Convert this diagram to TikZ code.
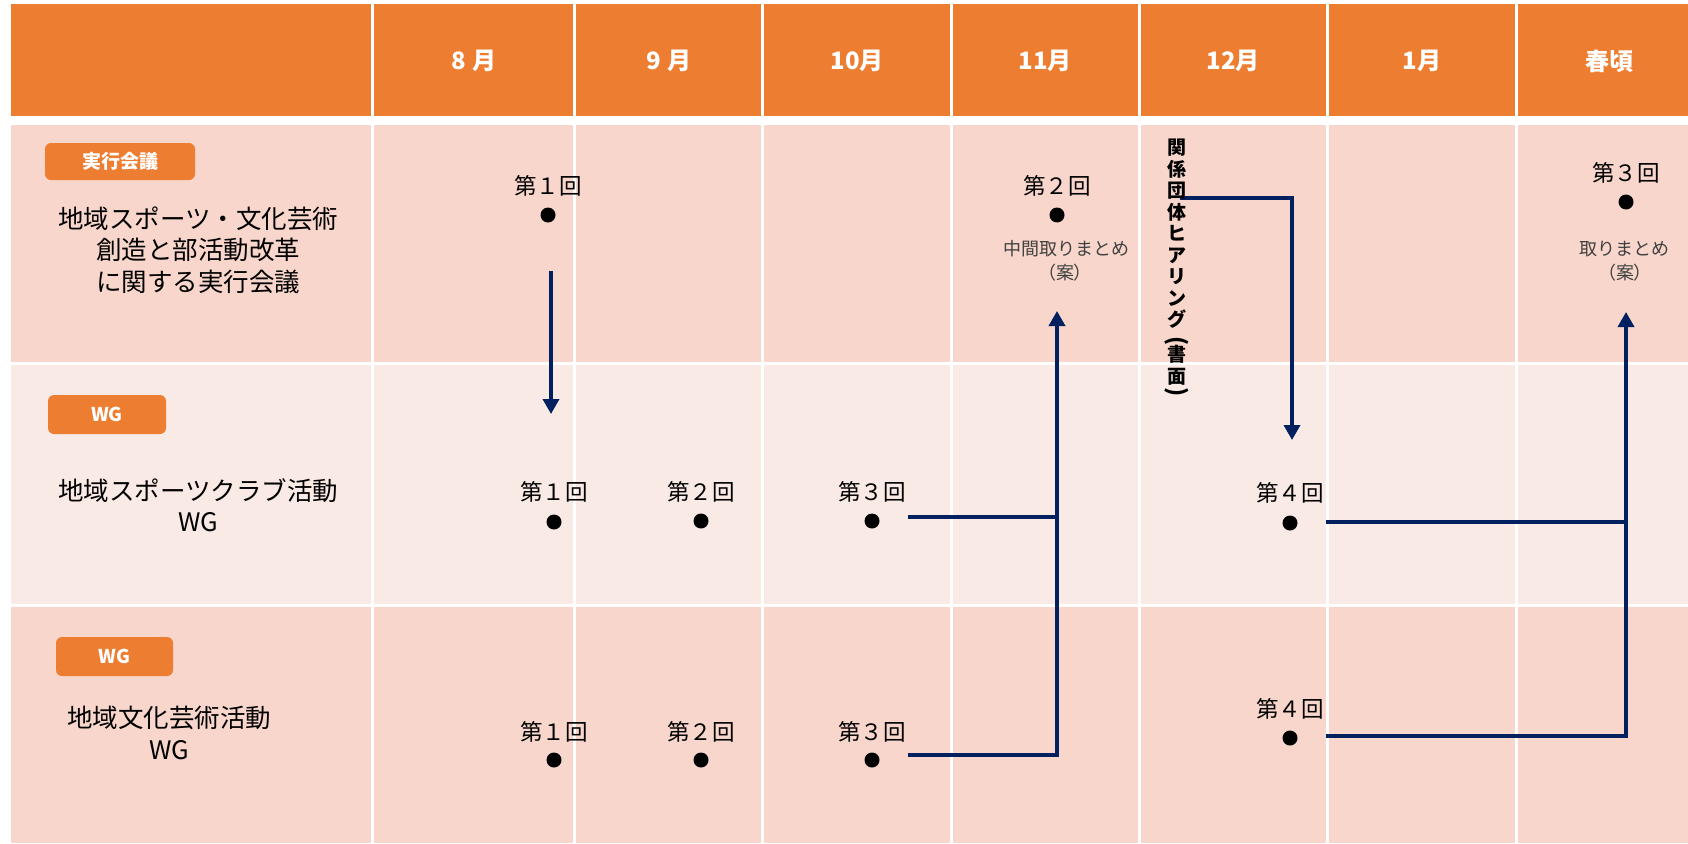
\documentclass[tikz,border=0pt]{standalone}
\usepackage{fontspec}
\usetikzlibrary{arrows.meta}
\setmainfont{Noto Sans CJK JP}
\newfontfamily\jpprop{Noto Sans CJK JP}[RawFeature=+palt]
\definecolor{hdrorange}{HTML}{ED7D31}
\definecolor{rowpink}{HTML}{F8D6CB}
\definecolor{rowlight}{HTML}{FAEAE5}
\definecolor{flownavy}{HTML}{002060}
\definecolor{notegray}{HTML}{404040}
% a parenthesis turned for vertical setting
\newcommand{\vparen}[1]{\rotatebox[origin=c]{-90}{\fontsize{23}{23}\selectfont #1}}
\tikzset{
  month/.style={text=white, font=\bfseries\fontsize{24}{28}\selectfont, inner sep=0pt},
  badge/.style={fill=hdrorange, rounded corners=6pt, text=white,
    font=\bfseries\fontsize{19}{22}\selectfont, inner sep=0pt},
  rowlabel/.style={align=center, font=\fontsize{25.5}{31.5}\selectfont, inner sep=0pt},
  meeting/.style={font=\fontsize{22.5}{26}\selectfont, inner sep=0pt},
  dot/.style={circle, fill=black, minimum size=15pt, inner sep=0pt},
  note/.style={text=notegray, font=\fontsize{18}{24}\selectfont, inner sep=0pt},
  flow/.style={draw=flownavy, line width=3.5pt},
  flowarrow/.style={flow, -{Triangle[length=15pt,width=16pt]}},
  vlabel/.style={align=center, font=\bfseries\fontsize{19}{21.5}\selectfont, inner sep=0pt},
  grid/.style={draw=white, line width=3pt},
}
\begin{document}
\begin{tikzpicture}[x=1pt,y=-1pt]
\useasboundingbox (0,0) rectangle (1688,843);
\fill[white] (0,0) rectangle (1688,843);

% table bands
\fill[hdrorange] (11,4) rectangle (1688,116);
\fill[rowpink]   (11,125) rectangle (1688,362);
\fill[rowlight]  (11,362) rectangle (1688,605);
\fill[rowpink]   (11,605) rectangle (1688,843);
\draw[grid] (11,363.5) -- (1688,363.5);
\draw[grid] (11,605.5) -- (1688,605.5);
\foreach \x in {372,574,762,951,1139,1327,1516}
  \draw[grid] (\x,4) -- (\x,843);

% month headers
\node[month] (m8)  at (474,61)  {8 月};
\node[month] (m9)  at (669,61)  {9 月};
\node[month] (m10) at (857,61)  {10月};
\node[month] (m11) at (1045,61) {11月};
\node[month] (m12) at (1233,61) {12月};
\node[month] (m1)  at (1422,61) {1月};
\node[month] (msp) at (1609,61) {春頃};

% row headings
\node[badge, minimum width=150pt, minimum height=37pt] (bexec) at (120,161.5) {実行会議};
\node[rowlabel] (lexec) at (198,250) {地域スポーツ・文化芸術\\創造と部活動改革\\に関する実行会議};
\node[badge, minimum width=118pt, minimum height=39pt] (bwg1) at (107,414.5) {WG};
\node[rowlabel] (lwg1) at (198,505) {地域スポーツクラブ活動\\WG};
\node[badge, minimum width=117pt, minimum height=39pt] (bwg2) at (114.5,656.5) {WG};
\node[rowlabel] (lwg2) at (169,733) {地域文化芸術活動\\WG};

% executive council meetings
\node[meeting] (e1t) at (548,186) {第１回};
\node[dot]     (e1)  at (548,215) {};
\node[meeting] (e2t) at (1057,186) {第２回};
\node[dot]     (e2)  at (1057,215) {};
\node[note]    (e2n) at (1066,249) {中間取りまとめ};
\node[note]    (e2c) at (1065,273) {\jpprop （案）};
\node[meeting] (e3t) at (1626,173) {第３回};
\node[dot]     (e3)  at (1626,202) {};
\node[note]    (e3n) at (1624,249) {取りまとめ};
\node[note]    (e3c) at (1625,273) {\jpprop （案）};

% sports club WG meetings
\node[meeting] (s1t) at (554,492) {第１回};
\node[dot]     (s1)  at (554,522) {};
\node[meeting] (s2t) at (701,492) {第２回};
\node[dot]     (s2)  at (701,521) {};
\node[meeting] (s3t) at (872,492) {第３回};
\node[dot]     (s3)  at (872,521) {};
\node[meeting] (s4t) at (1290,493) {第４回};
\node[dot]     (s4)  at (1290,523) {};

% culture WG meetings
\node[meeting] (c1t) at (554,732) {第１回};
\node[dot]     (c1)  at (554,760) {};
\node[meeting] (c2t) at (701,732) {第２回};
\node[dot]     (c2)  at (701,760) {};
\node[meeting] (c3t) at (872,732) {第３回};
\node[dot]     (c3)  at (872,760) {};
\node[meeting] (c4t) at (1290,709) {第４回};
\node[dot]     (c4)  at (1290,738) {};

% routing points of the flow lines
\coordinate (k1a) at (551,271);
\coordinate (k1b) at (551,414);
\coordinate (s3o) at (908,517);
\coordinate (c3o) at (908,755);
\coordinate (j2s) at (1057,517);
\coordinate (j2c) at (1057,755);
\coordinate (e2in) at (1057,311);
\coordinate (s4o) at (1326,522);
\coordinate (c4o) at (1326,736);
\coordinate (j3s) at (1626,522);
\coordinate (j3c) at (1626,736);
\coordinate (e3in) at (1626,312);
\coordinate (ho) at (1180,198);
\coordinate (hc) at (1292,198);
\coordinate (hin) at (1292,440);

% flows
\draw[flowarrow] (k1a) -- (k1b);
\draw[flow] (s3o) -- (j2s);
\draw[flowarrow] (c3o) -- (j2c) -- (e2in);
\draw[flow] (s4o) -- (j3s);
\draw[flowarrow] (c4o) -- (j3c) -- (e3in);
\draw[flowarrow] (ho) -- (hc) -- (hin);

% stakeholder hearing, set vertically
\node[vlabel, anchor=north] (hear) at (1177,139)
  {関\\係\\団\\体\\ヒ\\ア\\リ\\ン\\グ\\\vparen{(}\\[-8pt]書\\面\\[-5pt]\vparen{)}};
\end{tikzpicture}
\end{document}
